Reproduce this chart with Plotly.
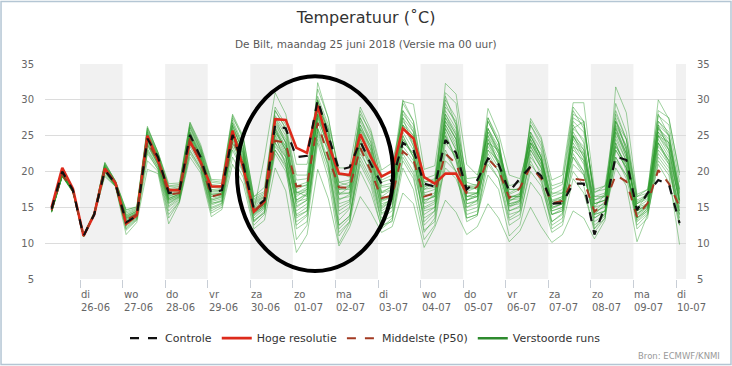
import plotly.graph_objects as go
import pandas as pd

# ---------------- data ----------------
times = pd.date_range("2018-06-25 08:00", periods=60, freq="6h")

tick_days = ["2018-06-26", "2018-06-27", "2018-06-28", "2018-06-29", "2018-06-30",
             "2018-07-01", "2018-07-02", "2018-07-03", "2018-07-04", "2018-07-05",
             "2018-07-06", "2018-07-07", "2018-07-08", "2018-07-09", "2018-07-10"]
tick_labels = ["di<br>26-06", "wo<br>27-06", "do<br>28-06", "vr<br>29-06", "za<br>30-06",
               "zo<br>01-07", "ma<br>02-07", "di<br>03-07", "wo<br>04-07", "do<br>05-07",
               "vr<br>06-07", "za<br>07-07", "zo<br>08-07", "ma<br>09-07", "di<br>10-07"]
shaded_days = ["2018-06-26", "2018-06-28", "2018-06-30", "2018-07-02",
               "2018-07-04", "2018-07-06", "2018-07-08", "2018-07-10"]

controle = [14.8, 20.0, 17.4, 11.0, 14.0, 20.2, 18.3, 12.9, 13.8, 24.6, 22.0, 17.0,
            17.2, 25.1, 22.0, 17.0, 17.4, 25.1, 21.0, 14.8, 16.0, 26.5, 26.0, 22.0,
            22.2, 30.0, 25.0, 20.2, 20.6, 24.2, 21.0, 18.3, 18.8, 24.0, 23.0, 18.3,
            17.9, 24.4, 22.6, 17.5, 18.8, 21.8, 21.0, 17.2, 19.0, 20.7, 19.4, 15.5,
            15.6, 18.3, 18.3, 11.2, 15.1, 22.1, 21.6, 14.6, 17.0, 18.8, 18.2, 12.8]

hoge_resolutie = [15.0, 20.5, 17.6, 11.0, 14.0, 20.4, 18.4, 12.7, 13.9, 25.0, 21.5, 17.4,
                  17.4, 24.2, 21.3, 17.9, 17.9, 25.7, 20.5, 14.4, 15.8, 27.3, 27.2, 23.3,
                  22.6, 29.2, 23.8, 19.7, 19.5, 25.2, 22.0, 19.3, 20.1, 26.0, 24.6, 19.2,
                  18.3, 19.7, 19.7, 17.0]

middelste = [14.6, 19.6, 17.3, 11.0, 14.0, 20.4, 18.2, 13.2, 14.0, 24.2, 21.5, 16.8,
             17.0, 24.6, 21.5, 16.5, 16.9, 24.6, 21.0, 14.5, 15.6, 24.3, 24.0, 17.9,
             18.1, 26.8, 22.0, 17.8, 17.7, 23.3, 20.0, 16.3, 16.6, 22.8, 21.6, 16.5,
             17.0, 22.5, 21.1, 17.0, 17.9, 21.8, 20.2, 16.3, 17.7, 20.7, 19.0, 15.6,
             15.9, 19.0, 18.8, 14.4, 15.6, 19.5, 18.6, 13.7, 15.6, 20.2, 18.3, 15.1]

run01 = [14.8, 19.9, 17.5, 11.1, 14.2, 21.3, 18.6, 14.6, 15.1, 26.3, 22.6, 18.0,
         18.2, 26.8, 23.5, 18.7, 18.5, 27.8, 24.4, 16.2, 17.0, 27.5, 25.0, 17.2,
         16.5, 32.4, 27.4, 19.8, 19.2, 27.0, 24.0, 18.0, 18.4, 26.5, 25.0, 17.0,
         17.5, 32.3, 30.8, 21.0, 19.5, 25.0, 21.0, 16.2, 17.0, 24.0, 21.0, 15.8,
         16.5, 26.0, 24.5, 14.5, 15.8, 24.0, 20.0, 14.0, 15.5, 25.5, 23.0, 15.5]
run02 = [14.3, 19.3, 17.1, 10.9, 13.9, 19.3, 17.9, 11.2, 12.9, 20.3, 19.7, 12.7,
         15.6, 22.0, 19.8, 13.7, 14.7, 21.0, 18.3, 12.0, 13.2, 20.5, 17.3, 8.7,
         11.2, 20.3, 16.2, 9.6, 12.2, 16.5, 14.3, 11.5, 12.3, 17.0, 15.5, 9.4,
         12.2, 16.0, 14.3, 11.2, 12.3, 15.5, 13.5, 10.2, 11.7, 15.0, 12.3, 10.1,
         11.2, 14.5, 13.5, 10.6, 13.2, 31.8, 28.2, 16.8, 17.5, 24.0, 21.0, 13.0]
run03 = [14.6, 19.6, 17.3, 11.0, 14.1, 20.6, 18.3, 13.5, 14.3, 25.0, 22.0, 17.0,
         17.4, 25.8, 22.8, 17.8, 17.6, 26.0, 23.0, 15.2, 16.2, 26.5, 24.0, 17.5,
         18.2, 29.8, 25.0, 16.8, 17.8, 25.8, 22.5, 16.0, 17.0, 26.0, 24.5, 15.6,
         16.8, 27.5, 25.2, 17.2, 17.8, 24.5, 21.2, 15.8, 16.8, 23.5, 20.6, 15.2,
         16.3, 24.8, 23.0, 15.0, 16.8, 26.3, 22.5, 14.8, 16.8, 26.2, 24.0, 16.8]
run04 = [14.5, 19.5, 17.2, 11.0, 14.0, 20.2, 18.1, 12.8, 13.8, 24.2, 21.2, 16.2,
         16.8, 24.8, 21.8, 16.5, 16.8, 25.2, 21.8, 14.5, 22.0, 31.0, 28.0, 21.0,
         21.0, 28.0, 24.0, 18.5, 18.8, 24.0, 21.0, 17.0, 18.0, 22.5, 20.0, 14.0,
         15.0, 20.5, 19.0, 15.0, 16.0, 23.0, 20.5, 14.5, 15.0, 27.4, 24.8, 18.8,
         19.5, 29.6, 29.6, 17.5, 18.0, 22.0, 19.0, 13.5, 14.8, 22.0, 20.0, 14.0]
run05 = [14.4, 19.4, 17.2, 11.0, 14.0, 19.9, 18.0, 12.2, 13.4, 23.2, 20.6, 15.2,
         16.3, 23.8, 21.2, 15.8, 16.2, 24.4, 21.0, 13.8, 15.0, 24.6, 22.0, 13.5,
         14.5, 27.0, 22.5, 13.2, 14.8, 23.5, 20.5, 14.8, 16.0, 29.8, 29.4, 20.3,
         20.8, 31.0, 29.5, 18.0, 17.5, 28.8, 25.3, 19.5, 19.0, 24.5, 21.5, 16.5,
         17.0, 22.0, 19.5, 14.0, 15.5, 23.5, 21.0, 12.5, 14.0, 21.0, 18.5, 12.5]
run06 = [14.7, 19.7, 17.4, 11.1, 14.2, 20.9, 18.5, 14.0, 14.7, 25.8, 22.4, 17.6,
         17.9, 26.4, 23.2, 18.2, 18.0, 27.2, 23.8, 16.0, 16.8, 28.5, 26.0, 18.8,
         19.0, 30.5, 26.5, 20.5, 20.5, 29.0, 25.8, 20.2, 21.2, 27.5, 23.5, 17.5,
         18.5, 26.0, 23.0, 16.0, 16.8, 21.5, 19.0, 13.2, 14.0, 20.0, 18.0, 13.0,
         14.2, 21.0, 19.5, 14.2, 15.2, 25.0, 21.5, 15.5, 17.0, 30.0, 27.3, 19.8]
run07 = [14.5, 19.5, 17.3, 11.0, 14.1, 20.4, 18.2, 13.0, 14.0, 24.0, 21.0, 15.8,
         16.5, 24.5, 21.5, 16.2, 16.6, 25.0, 21.5, 14.0, 15.4, 25.0, 21.0, 10.5,
         12.5, 24.0, 19.0, 10.0, 12.8, 20.0, 17.0, 12.2, 13.5, 21.5, 19.0, 11.5,
         13.5, 24.0, 22.0, 16.5, 17.0, 26.0, 22.5, 16.0, 16.5, 25.5, 22.0, 15.5,
         16.0, 27.0, 25.5, 17.0, 18.0, 28.0, 24.5, 16.5, 17.5, 27.8, 26.5, 18.5]
run08 = [14.6, 19.6, 17.4, 11.1, 14.1, 20.7, 18.4, 13.8, 14.4, 25.3, 22.2, 17.3,
         17.6, 26.1, 22.9, 17.4, 17.3, 26.5, 22.5, 14.8, 15.8, 26.0, 23.0, 15.0,
         16.0, 28.5, 24.0, 14.5, 15.5, 27.5, 24.0, 17.2, 17.8, 28.0, 26.0, 16.8,
         16.5, 26.5, 23.5, 14.0, 14.5, 22.0, 20.0, 15.2, 16.0, 26.5, 23.5, 17.5,
         18.2, 28.0, 27.0, 16.0, 16.5, 27.5, 23.0, 13.8, 15.0, 24.0, 21.5, 15.0]
run09 = [14.4, 19.4, 17.2, 10.9, 14.0, 20.0, 18.0, 12.5, 13.6, 22.5, 20.3, 14.5,
         16.0, 23.0, 20.5, 14.8, 15.5, 23.5, 20.0, 13.0, 14.5, 23.5, 21.5, 14.0,
         15.0, 25.5, 21.0, 12.0, 13.5, 22.0, 19.0, 13.5, 14.5, 24.0, 22.5, 12.5,
         14.0, 29.0, 27.0, 19.0, 19.2, 25.5, 22.5, 17.5, 17.5, 23.0, 20.5, 14.5,
         15.0, 20.0, 18.0, 11.5, 13.5, 22.0, 19.5, 15.5, 16.5, 26.5, 25.0, 17.5]
run10 = [14.7, 19.8, 17.5, 11.2, 14.3, 21.1, 18.7, 14.4, 14.9, 26.0, 22.6, 17.9,
         18.0, 26.6, 23.4, 18.5, 18.3, 27.5, 24.8, 16.5, 17.2, 29.0, 26.5, 19.5,
         19.5, 31.5, 27.5, 19.5, 19.5, 27.5, 24.5, 18.8, 19.5, 28.5, 25.5, 18.5,
         19.0, 28.5, 26.0, 17.5, 17.8, 24.0, 21.5, 16.8, 17.5, 25.0, 22.0, 16.0,
         16.5, 23.5, 22.5, 16.0, 16.8, 29.5, 25.5, 16.5, 17.0, 25.0, 22.5, 14.0]
run11 = [14.5, 19.5, 17.3, 11.0, 14.0, 20.3, 18.2, 13.2, 14.2, 24.6, 21.6, 16.5,
         17.0, 25.2, 22.3, 17.0, 17.0, 25.6, 22.2, 14.8, 15.6, 25.8, 22.5, 12.0,
         13.0, 26.0, 20.5, 11.5, 13.0, 24.5, 21.5, 14.5, 15.5, 25.0, 22.0, 14.8,
         15.5, 27.0, 24.5, 15.5, 15.8, 27.5, 24.0, 14.0, 14.5, 22.5, 19.5, 12.5,
         13.5, 24.0, 21.5, 12.0, 13.5, 23.0, 20.5, 12.0, 13.5, 23.0, 21.0, 12.5]
run12 = [14.6, 19.7, 17.4, 11.1, 14.2, 20.8, 18.4, 13.6, 14.5, 25.2, 22.0, 17.2,
         17.5, 25.5, 22.6, 17.5, 17.4, 26.4, 23.2, 15.4, 16.4, 27.0, 24.5, 16.5,
         17.5, 29.0, 26.0, 18.0, 18.5, 26.5, 23.0, 16.5, 17.5, 25.0, 22.0, 17.8,
         18.6, 25.5, 21.5, 16.5, 16.5, 23.5, 21.0, 15.0, 15.8, 21.5, 18.5, 14.0,
         14.8, 26.0, 27.0, 15.5, 16.0, 24.0, 20.5, 13.5, 14.8, 25.0, 24.0, 17.0]
run13 = [14.3, 19.3, 17.1, 10.9, 13.9, 19.5, 17.9, 11.8, 13.2, 21.5, 20.0, 13.5,
         15.8, 22.5, 20.2, 14.2, 15.0, 22.0, 19.2, 12.5, 14.0, 22.5, 20.0, 12.5,
         13.8, 24.5, 20.0, 11.0, 13.0, 21.5, 18.5, 13.0, 13.8, 23.0, 21.0, 13.0,
         14.5, 25.0, 21.5, 13.5, 14.0, 19.5, 17.5, 11.0, 12.5, 18.5, 16.5, 11.5,
         12.5, 19.0, 17.0, 12.0, 14.2, 20.5, 18.0, 10.2, 14.0, 21.5, 19.5, 9.8]
run14 = [14.5, 19.5, 17.3, 11.0, 14.1, 20.5, 18.3, 13.3, 14.1, 24.4, 21.4, 16.0,
         16.6, 24.6, 21.6, 16.0, 16.4, 25.5, 22.6, 14.2, 15.2, 24.0, 22.0, 16.0,
         16.8, 27.5, 23.5, 15.0, 15.8, 25.0, 22.5, 15.2, 16.2, 27.0, 25.0, 18.0,
         18.0, 30.5, 26.5, 17.0, 17.0, 27.0, 24.0, 17.0, 17.8, 26.5, 24.0, 18.0,
         18.5, 29.0, 27.0, 16.5, 16.5, 27.0, 24.5, 16.0, 16.8, 28.5, 27.5, 19.5]
run15 = [14.6, 19.6, 17.4, 11.1, 14.2, 21.0, 18.6, 14.2, 14.8, 25.6, 22.3, 16.8,
         17.0, 25.4, 22.0, 15.6, 15.8, 24.0, 20.8, 14.3, 15.5, 23.0, 20.5, 14.5,
         15.5, 26.0, 23.0, 17.5, 17.5, 25.5, 22.0, 15.5, 16.0, 23.5, 21.5, 15.5,
         16.0, 23.0, 20.0, 13.0, 13.8, 22.5, 20.0, 13.5, 14.5, 22.0, 20.0, 14.5,
         15.0, 22.5, 20.0, 13.5, 14.5, 21.5, 19.5, 14.5, 15.5, 22.5, 20.5, 14.5]
run16 = [14.4, 19.4, 17.2, 10.9, 14.0, 20.1, 18.0, 12.6, 13.7, 23.6, 20.8, 15.5,
         16.4, 24.2, 21.0, 15.3, 15.9, 24.8, 21.5, 13.5, 14.8, 25.5, 23.5, 15.8,
         16.2, 28.0, 25.0, 17.0, 17.0, 24.0, 20.5, 12.5, 13.0, 20.5, 17.5, 10.5,
         12.5, 21.5, 20.0, 14.5, 15.0, 24.0, 23.0, 18.0, 18.5, 25.0, 22.0, 15.0,
         15.5, 25.0, 22.0, 14.5, 15.0, 26.0, 22.0, 15.0, 16.0, 27.0, 25.0, 16.0]
run17 = [14.7, 19.8, 17.5, 11.2, 14.3, 21.2, 18.7, 14.7, 15.0, 26.1, 22.7, 18.3,
         18.4, 26.9, 23.8, 18.9, 18.8, 28.0, 24.9, 16.5, 17.8, 28.5, 26.0, 18.0,
         18.5, 30.0, 26.0, 18.5, 18.0, 28.0, 25.5, 19.5, 19.8, 30.0, 27.0, 19.0,
         19.5, 30.0, 27.5, 18.5, 18.0, 25.5, 23.0, 17.5, 17.5, 24.5, 21.5, 15.5,
         16.0, 28.5, 26.0, 17.2, 17.5, 27.0, 23.5, 15.0, 15.5, 26.0, 23.5, 16.0]
run18 = [14.5, 19.5, 17.3, 11.0, 14.0, 20.1, 18.1, 12.9, 13.9, 23.8, 21.0, 16.0,
         16.7, 24.6, 21.6, 16.0, 16.5, 24.5, 21.4, 14.2, 15.2, 25.5, 23.0, 17.0,
         17.5, 27.5, 23.5, 16.0, 16.8, 26.0, 23.5, 17.8, 18.0, 26.5, 24.0, 16.0,
         16.5, 26.5, 24.0, 16.5, 17.0, 26.0, 23.5, 16.5, 16.5, 24.0, 21.5, 14.0,
         14.5, 25.0, 23.5, 13.5, 14.5, 25.5, 22.0, 14.5, 15.5, 26.5, 23.0, 15.5]
run19 = [14.5, 19.5, 17.3, 11.0, 14.1, 20.5, 18.2, 13.4, 14.2, 24.8, 21.8, 16.6,
         17.1, 25.0, 22.0, 16.8, 16.9, 25.8, 22.0, 14.6, 15.7, 26.2, 23.5, 15.5,
         16.8, 28.0, 23.0, 14.0, 15.0, 24.5, 21.0, 15.0, 16.0, 26.5, 23.5, 14.5,
         15.0, 25.0, 22.0, 15.5, 16.0, 26.0, 23.0, 16.5, 16.8, 25.0, 22.0, 14.8,
         15.5, 26.5, 24.0, 15.5, 16.0, 27.0, 23.0, 14.0, 15.2, 24.5, 22.0, 16.0]
run20 = [14.6, 19.6, 17.3, 11.0, 14.1, 20.6, 18.3, 13.7, 14.5, 24.5, 21.5, 16.2,
         16.9, 25.2, 22.2, 16.8, 17.0, 26.8, 23.5, 15.6, 16.5, 27.8, 25.5, 18.0,
         18.0, 29.5, 24.5, 15.5, 16.0, 23.0, 19.5, 14.0, 15.0, 27.5, 25.5, 16.5,
         17.0, 28.0, 25.0, 15.0, 15.5, 23.0, 21.5, 15.5, 16.0, 23.5, 21.0, 14.0,
         14.5, 27.5, 26.5, 16.5, 17.0, 26.0, 22.5, 14.2, 15.0, 27.0, 25.5, 17.5]
run21 = [14.4, 19.4, 17.2, 10.9, 14.0, 20.0, 18.0, 12.4, 13.5, 23.0, 20.5, 15.0,
         16.1, 23.5, 20.8, 15.0, 15.6, 24.0, 20.5, 13.2, 14.2, 24.0, 21.0, 13.0,
         14.0, 26.0, 21.5, 12.5, 13.8, 22.5, 20.0, 14.2, 15.0, 24.5, 22.0, 13.5,
         14.5, 26.0, 23.0, 16.0, 16.5, 24.0, 21.0, 14.5, 15.2, 23.0, 20.5, 13.0,
         14.0, 23.5, 21.0, 12.5, 13.8, 24.5, 21.5, 13.2, 14.5, 23.5, 21.5, 14.5]
run22 = [14.7, 19.7, 17.4, 11.1, 14.2, 20.9, 18.5, 13.9, 14.6, 25.5, 22.2, 17.4,
         17.7, 26.2, 23.0, 17.9, 17.8, 26.8, 23.5, 15.8, 16.6, 27.5, 24.0, 16.0,
         17.0, 29.5, 25.5, 17.5, 18.0, 28.5, 25.0, 18.5, 19.0, 29.5, 27.0, 18.5,
         18.8, 27.5, 24.5, 17.0, 17.0, 25.0, 22.5, 16.0, 16.2, 24.0, 21.5, 15.0,
         15.5, 25.5, 23.0, 15.0, 15.5, 28.5, 24.5, 15.5, 16.2, 28.0, 25.0, 16.5]
run23 = [14.5, 19.5, 17.2, 11.0, 14.0, 20.3, 18.1, 12.7, 13.9, 23.8, 21.0, 15.6,
         16.5, 24.0, 21.3, 15.5, 16.0, 24.8, 21.8, 14.0, 15.0, 26.0, 23.0, 16.8,
         17.2, 28.5, 24.0, 16.2, 16.5, 25.0, 22.0, 15.8, 16.5, 24.5, 22.5, 16.0,
         16.5, 28.0, 25.5, 17.8, 18.0, 27.0, 24.0, 16.5, 16.5, 27.0, 24.5, 17.0,
         17.0, 23.0, 21.5, 14.0, 14.5, 23.5, 21.0, 13.0, 14.2, 25.5, 24.0, 16.0]
run24 = [14.6, 19.6, 17.3, 11.0, 14.1, 20.7, 18.3, 13.5, 14.3, 24.9, 21.7, 16.8,
         17.3, 25.5, 22.4, 17.2, 17.2, 26.3, 22.8, 15.0, 15.9, 26.8, 24.0, 17.0,
         17.8, 30.0, 25.5, 17.8, 17.8, 26.5, 23.5, 17.0, 17.5, 28.5, 26.5, 17.5,
         17.8, 29.5, 26.5, 18.0, 18.2, 27.5, 24.5, 15.5, 15.8, 25.5, 23.0, 16.8,
         17.5, 24.5, 22.0, 15.5, 16.0, 26.5, 23.5, 15.8, 16.5, 26.0, 24.5, 17.2]
run25 = [14.4, 19.4, 17.2, 10.9, 14.0, 19.8, 17.9, 12.0, 13.3, 22.8, 20.2, 14.0,
         15.8, 22.8, 20.4, 14.5, 15.3, 23.0, 19.8, 13.0, 14.3, 23.0, 20.8, 13.8,
         14.5, 25.0, 21.0, 12.5, 13.8, 21.0, 18.0, 12.0, 13.2, 22.0, 19.5, 11.8,
         13.0, 22.5, 20.0, 13.5, 14.0, 21.0, 19.0, 12.5, 13.5, 21.0, 19.0, 12.0,
         13.0, 22.0, 20.0, 13.0, 14.0, 23.0, 20.5, 13.5, 14.5, 24.0, 21.5, 13.5]
run26 = [14.5, 19.5, 17.3, 11.0, 14.1, 20.4, 18.2, 13.1, 14.0, 24.3, 21.3, 16.3,
         16.8, 24.9, 21.9, 16.5, 16.7, 25.3, 22.4, 14.5, 15.4, 25.2, 22.2, 15.2,
         16.0, 27.8, 24.2, 16.8, 17.0, 26.0, 23.0, 16.0, 16.5, 25.5, 23.0, 15.0,
         15.8, 27.0, 24.5, 16.0, 16.5, 24.5, 22.0, 15.2, 15.5, 24.0, 22.5, 15.8,
         16.2, 25.0, 22.5, 14.0, 14.5, 25.5, 22.5, 14.5, 15.2, 25.0, 23.0, 15.8]

verstoorde_runs = [run01, run02, run03, run04, run05, run06, run07, run08, run09,
                   run10, run11, run12, run13, run14, run15, run16, run17, run18,
                   run19, run20, run21, run22, run23, run24, run25, run26]
for r in verstoorde_runs:
    assert len(r) == len(times), len(r)

# ---------------- figure ----------------
FONT = "DejaVu Sans"
fig = go.Figure()

for run in verstoorde_runs:
    fig.add_trace(go.Scatter(
        x=times, y=run, mode="lines", name="Verstoorde runs",
        line=dict(color="rgba(45,155,45,0.45)", width=1),
        legendgroup="runs", showlegend=False, hoverinfo="skip"))

fig.add_trace(go.Scatter(
    x=times[:len(hoge_resolutie)], y=hoge_resolutie, mode="lines", name="Hoge resolutie",
    line=dict(color="#dd2a1b", width=2.6), legendrank=2, hoverinfo="skip"))
fig.add_trace(go.Scatter(
    x=times, y=middelste, mode="lines", name="Middelste (P50)",
    line=dict(color="#a33a22", width=2, dash="dash"), legendrank=3, hoverinfo="skip"))
fig.add_trace(go.Scatter(
    x=times, y=controle, mode="lines", name="Controle",
    line=dict(color="#111111", width=2.2, dash="dash"), legendrank=1, hoverinfo="skip"))
# legend entry for the ensemble members
fig.add_trace(go.Scatter(
    x=[None], y=[None], mode="lines", name="Verstoorde runs",
    line=dict(color="#2e8b2e", width=2.5), legendgroup="runs", legendrank=4,
    hoverinfo="skip"))

# invisible trace to display the right-hand y axis
fig.add_trace(go.Scatter(x=times, y=controle, yaxis="y2", mode="lines",
                         line=dict(width=0, color="rgba(0,0,0,0)"),
                         showlegend=False, hoverinfo="skip"))

shapes = []
for d in shaded_days:
    start = pd.Timestamp(d)
    end = min(start + pd.Timedelta(days=1), pd.Timestamp("2018-07-10 05:38"))
    shapes.append(dict(type="rect", xref="x", yref="paper", x0=start, x1=end,
                       y0=0, y1=1, fillcolor="#f1f1f1", line=dict(width=0),
                       layer="below"))
# hand-drawn ellipse
shapes.append(dict(type="circle", xref="x", yref="y",
                   x0="2018-06-29 16:30", x1="2018-07-03 08:30", y0=6.1, y1=33.3,
                   line=dict(color="black", width=4), layer="above"))
# outer frame
shapes.append(dict(type="rect", xref="paper", yref="paper",
                   x0=-0.0686, x1=1.0702, y0=-0.398, y1=1.291,
                   line=dict(color="#b4c6d4", width=1.5), layer="above"))

annotations = [
    dict(text="De Bilt, maandag 25 juni 2018 (Versie ma 00 uur)",
         xref="paper", yref="paper", x=0.5, y=(279 - 44) / 215,
         xanchor="center", yanchor="middle", showarrow=False,
         font=dict(size=10.5, color="#595959", family=FONT)),
    dict(text="Bron: ECMWF/KNMI", xref="paper", yref="paper",
         x=(722 - 45) / 641, y=(279 - 356) / 215, xanchor="right", yanchor="middle",
         showarrow=False, font=dict(size=8.5, color="#999999", family=FONT)),
]
# left-aligned two-line day labels below the ticks
for d, lab in zip(tick_days, tick_labels):
    annotations.append(dict(text=lab, xref="x", yref="paper", x=d, y=-0.035,
                            xanchor="left", yanchor="top", align="left",
                            showarrow=False, xshift=-1,
                            font=dict(size=10, color="#666666", family=FONT)))

fig.update_layout(
    width=732, height=366,
    margin=dict(l=45, r=46, t=64, b=87),
    paper_bgcolor="white", plot_bgcolor="white",
    font=dict(family=FONT, color="#333333"),
    title=dict(text="Temperatuur (˚C)", x=0.5, xanchor="center",
               y=1 - 17 / 366, yanchor="middle",
               font=dict(size=16, color="#333333", family=FONT)),
    shapes=shapes,
    annotations=annotations,
    showlegend=True,
    legend=dict(orientation="h", x=0.5, xanchor="center", y=-0.275, yanchor="middle",
                font=dict(size=11, color="#333333", family=FONT),
                itemwidth=30, bgcolor="rgba(0,0,0,0)", tracegroupgap=0),
    xaxis=dict(type="date", range=["2018-06-25 04:16", "2018-07-10 05:38"],
               tickmode="array", tickvals=tick_days, showticklabels=False,
               ticks="outside", ticklen=8, tickcolor="#c8ced6", tickwidth=1,
               showgrid=False, showline=False, zeroline=False),
    yaxis=dict(range=[5, 35], tickvals=[5, 10, 15, 20, 25, 30, 35],
               showgrid=True, gridcolor="#dcdcdc", gridwidth=1, zeroline=False,
               ticks="", ticklabelstandoff=10,
               tickfont=dict(size=10, color="#666666", family=FONT)),
    yaxis2=dict(range=[5, 35], tickvals=[5, 10, 15, 20, 25, 30, 35], overlaying="y",
                side="right", showgrid=False, zeroline=False, ticks="",
                ticklabelstandoff=10,
                tickfont=dict(size=10, color="#666666", family=FONT)),
    hovermode=False,
)

fig.write_html("out.html", config={"displayModeBar": False, "staticPlot": True},
               post_script="document.body.style.margin='0';")
